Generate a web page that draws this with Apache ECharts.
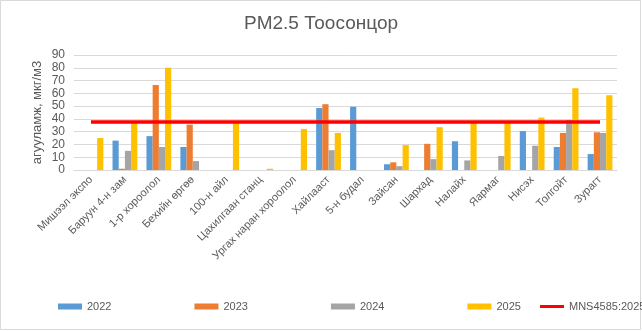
<!DOCTYPE html>
<html>
<head>
<meta charset="utf-8">
<script src="https://cdn.jsdelivr.net/npm/echarts@6/dist/echarts.min.js"></script>
<style>
  html, body { margin: 0; padding: 0; background: #fff; }
  #chart { width: 642px; height: 331px; }
</style>
</head>
<body>
<div id="chart"></div>
<script>
// Monitoring stations
const stations = [
  'Мишээл экспо', 'Баруун 4-н зам', '1-р хороолол', 'Бехийн өргөө', '100-н айл',
  'Цахилгаан станц', 'Ургах наран хороолол', 'Хайлааст', '5-н будал', 'Зайсан',
  'Шархад', 'Налайх', 'Яармаг', 'Нисэх', 'Толгойт', 'Зурагт'
];

// PM2.5 concentration by year (null = no measurement)
const pm2022 = [null, 23, 26.5, 18, null, null, null, 48.5, 49.5, 4.5, null, 22.5, null, 30.5, 18, 12.5];
const pm2023 = [null, 1, 66.5, 35.5, null, null, null, 51.5, null, 6, 20.5, null, null, null, 29, 29.5];
const pm2024 = [null, 15, 18, 7, null, null, null, 15.5, null, 3, 8.5, 7.5, 11, 19, 39, 29];
const pm2025 = [25, 37, 80, null, 37, 1, 32, 29, null, 19.5, 33.5, 37, 37, 41, 64, 58.5];

// National standard limit
const standardName = 'MNS4585:2025';
const standardValue = 37.5;

const yTicks = { min: 0, max: 90, interval: 10 };

const textColor = '#595959';
const font = 'Liberation Sans';

const chart = echarts.init(document.getElementById('chart'), null, { renderer: 'canvas' });

const barSeries = [
  ['2022', pm2022, '#5B9BD5'],
  ['2023', pm2023, '#ED7D31'],
  ['2024', pm2024, '#A5A5A5'],
  ['2025', pm2025, '#FFC000']
].map(([name, data, color]) => ({
  name, type: 'bar', data,
  barGap: '0%', barCategoryGap: '27%',
  itemStyle: { color }
}));

const legendText = { color: textColor, fontFamily: font, fontSize: 11 };

chart.setOption({
  animation: false,
  backgroundColor: '#fff',
  title: {
    text: 'PM2.5 Тоосонцор',
    left: 'center', top: 9,
    textStyle: { color: textColor, fontFamily: font, fontSize: 19, fontWeight: 'normal' }
  },
  graphic: [{
    type: 'rect', shape: { x: 0.5, y: 0.5, width: 640, height: 329 },
    style: { fill: 'none', stroke: '#d9d9d9', lineWidth: 1 }, silent: true
  }],
  legend: [{
    data: ['2022', '2023', '2024', '2025'],
    left: 58, top: 301, padding: 0, itemWidth: 24, itemHeight: 6, itemGap: 83,
    icon: 'rect',
    textStyle: legendText
  }, {
    data: [{ name: standardName, icon: 'rect' }],
    left: 540, top: 301, padding: 0, itemWidth: 24, itemHeight: 3,
    textStyle: legendText
  }],
  grid: { left: 74, right: 25, top: 55, bottom: 161 },
  xAxis: {
    type: 'category', data: stations,
    axisLine: { lineStyle: { color: '#d9d9d9' } },
    axisTick: { show: false },
    axisLabel: {
      rotate: 45, interval: 0, color: textColor, fontFamily: font, fontSize: 11, margin: 8
    }
  },
  yAxis: {
    type: 'value', min: yTicks.min, max: yTicks.max, interval: yTicks.interval,
    name: 'агууламж, мкг/м3', nameLocation: 'middle', nameGap: 30,
    nameMoveOverlap: false,
    nameTextStyle: { color: textColor, fontFamily: font, fontSize: 13 },
    axisLine: { show: false }, axisTick: { show: false },
    axisLabel: { color: textColor, fontFamily: font, fontSize: 12, margin: 9 },
    splitLine: { lineStyle: { color: '#d9d9d9' } }
  },
  series: [
    ...barSeries,
    {
      name: standardName, type: 'line',
      data: stations.map(() => standardValue),
      symbol: 'none',
      lineStyle: { color: '#FF0000', width: 3.5 },
      itemStyle: { color: '#FF0000' },
      z: 5
    }
  ]
});
</script>
</body>
</html>
